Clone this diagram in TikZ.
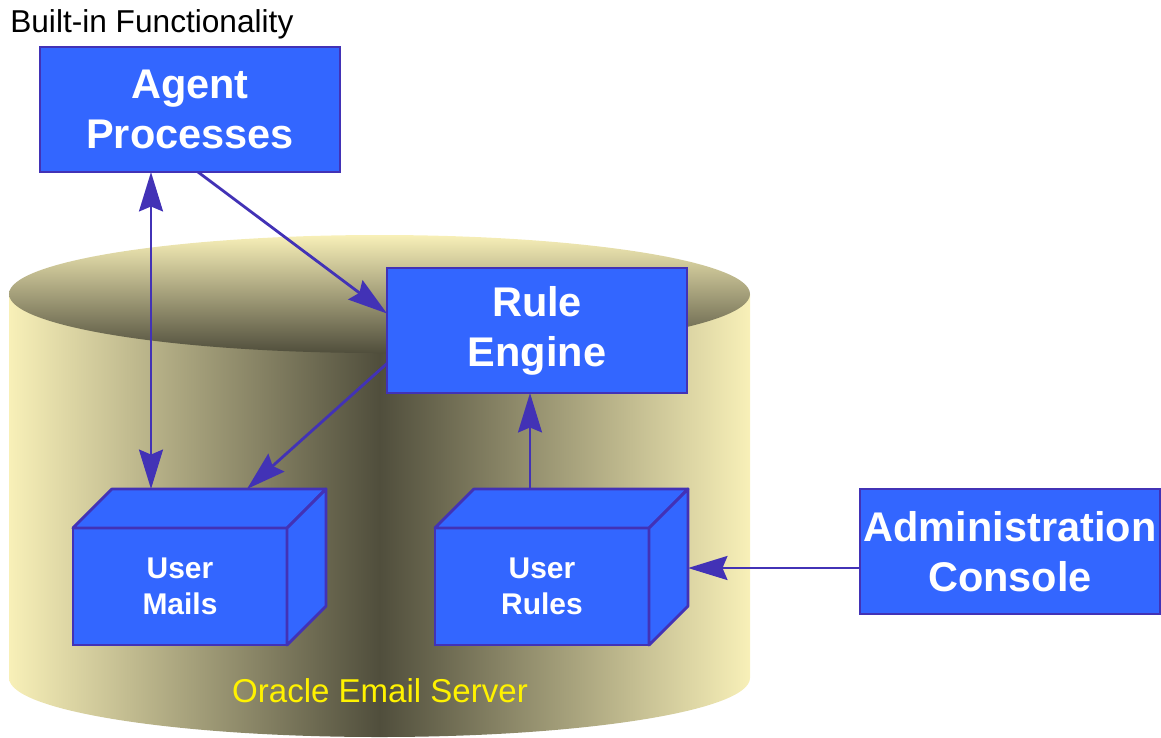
\documentclass[tikz,border=0pt]{standalone}
\usepackage{fontspec}
\setmainfont{Liberation Sans}
\usetikzlibrary{arrows.meta,calc}

\definecolor{boxblue}{RGB}{51,102,255}
\definecolor{linkblue}{RGB}{66,50,182}
\definecolor{cyllight}{RGB}{248,240,184}
\definecolor{cyldark}{RGB}{80,78,60}

\begin{document}
\begin{tikzpicture}[x=0.025cm, y=-0.025cm,
    box/.style={draw=linkblue, fill=boxblue, line width=2pt, text=white, align=center,
        inner sep=0pt, outer sep=0pt, font=\bfseries\fontsize{29.5}{35.6}\selectfont,
        minimum width=7.5cm, minimum height=3.125cm},
    block/.style={box, minimum width=5.35cm, minimum height=2.925cm,
        font=\bfseries\fontsize{21.3}{25.6}\selectfont},
    face/.style={draw=linkblue, fill=boxblue, line width=2pt, line join=round},
    link/.style={draw=linkblue, line width=2pt},
    >={Stealth[length=28pt, width=17pt, inset=3.5pt]}]
\useasboundingbox (0,0) rectangle (1161,737);

% the server drum
\shade[left color=cyllight, right color=cyllight, middle color=cyldark]
    (9,294) -- (9,678) arc[start angle=180, end angle=0, x radius=370.5, y radius=59] -- (750,294) -- cycle;
\shade[top color=cyllight, bottom color=cyldark] (379.5,294) circle[x radius=370.5, y radius=59];
\node[text=yellow, font=\fontsize{23.5}{28}\selectfont, anchor=base, inner sep=0pt] (server) at (380,702) {Oracle Email Server};

\node[anchor=base west, inner sep=0pt, font=\fontsize{22.5}{27}\selectfont] (title) at (10,32) {Built-in Functionality};

\node[box] (agent) at (190,109.5) {Agent\\Processes};
\node[box] (rule) at (537,330.5) {Rule\\Engine};
\node[box] (admin) at (1010,551.5) {Administration\\Console};

% stores, drawn as boxes
\foreach \n/\x/\t in {mails/180/{User\\Mails}, rules/542/{User\\Rules}} {
    \node[block] (\n) at (\x,586.5) {\t};
    \draw[face] (\n.north west) -- ++(39,-39) -- ++(214,0) -- (\n.north east) -- cycle;
    \draw[face] (\n.north east) -- ++(39,-39) -- ++(0,117) -- (\n.south east) -- cycle;
    \coordinate (\n-back) at ([shift={(39,-39)}]\n.north west);
    \coordinate (\n-side) at ([shift={(39,-39)}]\n.south east);
}

\coordinate (a1) at ($(agent.south)+(-39,0)$);
\draw[link, <->] (a1) -- (a1 |- mails-back);
\draw[link, ->] ($(agent.south)+(8,0)$) -- ($(rule.west)+(0,-17)$);
\draw[link, ->] ($(rule.west)+(0,33)$) -- ($(mails-back)+(135,0)$);
\coordinate (r1) at ($(rule.south)+(-7,0)$);
\draw[link, ->] (r1 |- rules-back) -- (r1);
\coordinate (c1) at ($(admin.west)+(0,16.5)$);
\draw[link, ->] (c1) -- (c1 -| rules-side);
\end{tikzpicture}
\end{document}
